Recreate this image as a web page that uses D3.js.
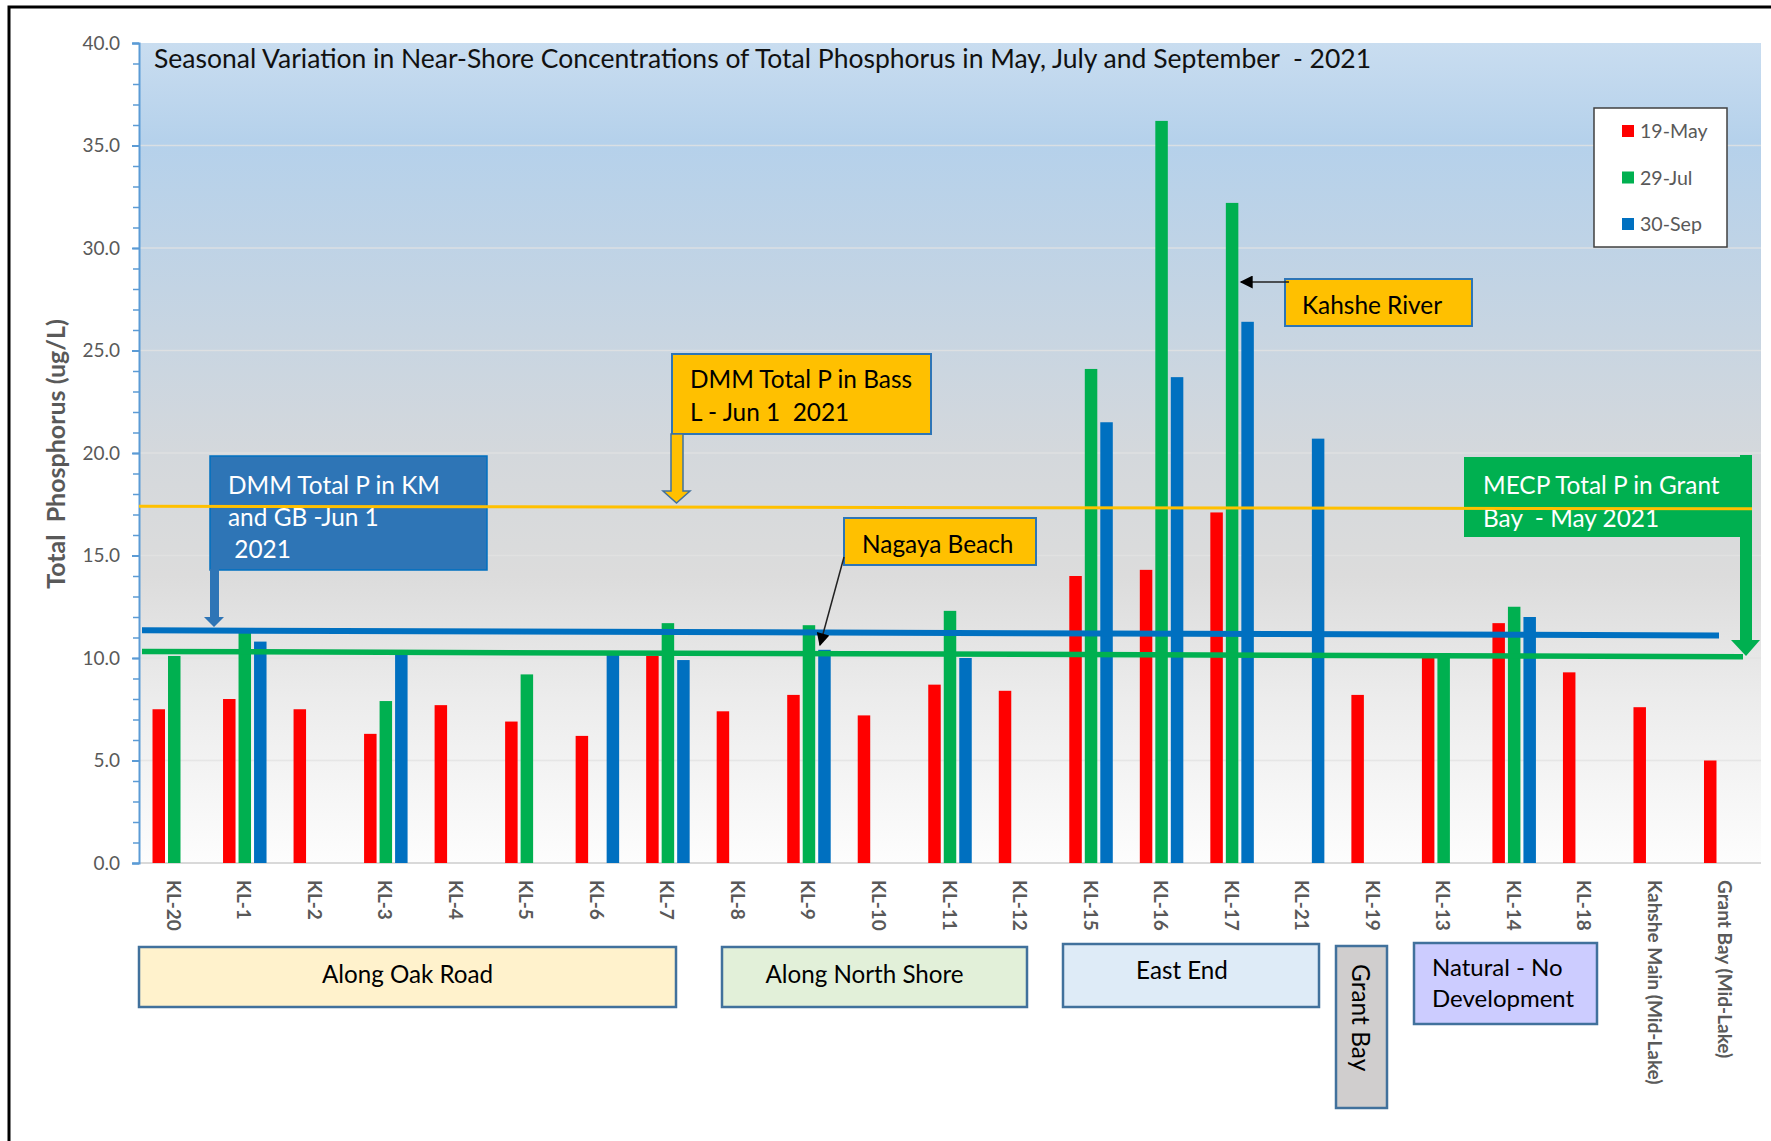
<html>
<head>
  <title>Total Phosphorus - Seasonal Variation 2021</title>
  <script src="https://d3js.org/d3.v7.min.js"></script>
  <style>
    body { margin: 0; background: #fff; }
    text { font-family: Lato, 'Open Sans', sans-serif; }
  </style>
</head>
<body>
  <svg id="chart" width="1771" height="1141"></svg>
  <script>
    // stations along the x axis
    var categories = ["KL-20", "KL-1", "KL-2", "KL-3", "KL-4", "KL-5", "KL-6", "KL-7", "KL-8", "KL-9",
      "KL-10", "KL-11", "KL-12", "KL-15", "KL-16", "KL-17", "KL-21", "KL-19", "KL-13", "KL-14",
      "KL-18", "Kahshe Main (Mid-Lake)", "Grant Bay (Mid-Lake)"];
    var seriesNames = ["19-May", "29-Jul", "30-Sep"];
    var may19 = [7.5, 8.0, 7.5, 6.3, 7.7, 6.9, 6.2, 10.1, 7.4, 8.2, 7.2, 8.7, 8.4, 14.0, 14.3, 17.1, null, 8.2, 10.0, 11.7, 9.3, 7.6, 5.0];
    var jul29 = [10.1, 11.3, null, 7.9, null, 9.2, null, 11.7, null, 11.6, null, 12.3, null, 24.1, 36.2, 32.2, null, null, 10.0, 12.5, null, null, null];
    var sep30 = [null, 10.8, null, 10.2, null, null, 10.15, 9.9, null, 10.4, null, 10.0, null, 21.5, 23.7, 26.4, 20.7, null, null, 12.0, null, null, null];
    var seriesColors = ["#ff0000", "#00b050", "#0070c0"];

    // reference levels drawn as lines (start value, end value)
    var bassLakeLevel = [17.4, 17.28];
    var kmGbLevel = [11.35, 11.1];
    var grantBayLevel = [10.32, 10.06];

    var yTicks = [0, 5, 10, 15, 20, 25, 30, 35, 40];

    var groupNames = ["Along Oak Road", "Along North Shore", "East End", "Grant Bay", "Natural - No|Development"];

    var svg = d3.select("#chart");
    var pLeft = 139, pRight = 1761, pTop = 43, pBottom = 863;

    var x = d3.scaleBand().domain(categories).range([pLeft, pRight]);
    var y = d3.scaleLinear().domain([0, 40]).range([pBottom, pTop]);
    var groupW = 43.5;
    var xSub = d3.scaleBand().domain(seriesNames).range([0, groupW]).paddingInner(0.194);
    var groupOff = (x.bandwidth() - groupW) / 2;

    // outer frame
    svg.append("rect").attr("x", 9).attr("y", 7).attr("width", 1800).attr("height", 1200)
      .attr("fill", "none").attr("stroke", "#000").attr("stroke-width", 3);

    // plot background gradient
    var defs = svg.append("defs");
    var grad = defs.append("linearGradient").attr("id", "bg").attr("x1", 0).attr("y1", 0).attr("x2", 0).attr("y2", 1);
    [[0, "#c9ddf0"], [0.12, "#b5d1eb"], [0.3, "#c3d4e4"], [0.5, "#d4d8dc"], [0.65, "#dcdcdc"], [0.8, "#ececec"], [1, "#fdfdfd"]]
      .forEach(function (s) { grad.append("stop").attr("offset", s[0]).attr("stop-color", s[1]); });

    var mk = defs.append("marker").attr("id", "arr").attr("viewBox", "0 0 10 10")
      .attr("refX", 9).attr("refY", 5).attr("markerUnits", "userSpaceOnUse")
      .attr("markerWidth", 15).attr("markerHeight", 13).attr("orient", "auto");
    mk.append("path").attr("d", "M0,0L10,5L0,10z").attr("fill", "#000");

    svg.append("rect").attr("x", pLeft).attr("y", pTop).attr("width", pRight - pLeft).attr("height", pBottom - pTop)
      .attr("fill", "url(#bg)");

    // gridlines
    svg.append("g").selectAll("line").data(yTicks.filter(function (d) { return d > 0 && d < 40; })).enter()
      .append("line").attr("x1", pLeft).attr("x2", pRight)
      .attr("y1", function (d) { return y(d); }).attr("y2", function (d) { return y(d); })
      .attr("stroke", "#e3e3e3").attr("stroke-width", 1.5).attr("opacity", 0.8);

    // x baseline
    svg.append("line").attr("x1", pLeft).attr("x2", pRight).attr("y1", pBottom).attr("y2", pBottom)
      .attr("stroke", "#d9d9d9").attr("stroke-width", 2);

    // bars
    var series = [may19, jul29, sep30];
    var bars = [];
    series.forEach(function (vals, si) {
      vals.forEach(function (v, i) {
        if (v != null) bars.push({ cat: categories[i], s: seriesNames[si], v: v, c: seriesColors[si] });
      });
    });
    svg.append("g").selectAll("rect").data(bars).enter().append("rect")
      .attr("x", function (d) { return x(d.cat) + groupOff + xSub(d.s); })
      .attr("width", xSub.bandwidth())
      .attr("y", function (d) { return y(d.v); })
      .attr("height", function (d) { return pBottom - y(d.v); })
      .attr("fill", function (d) { return d.c; });

    // y axis
    var yAxis = svg.append("g").attr("transform", "translate(" + pLeft + ",0)")
      .call(d3.axisLeft(y).tickValues(yTicks).tickFormat(d3.format(".1f")).tickSize(7).tickPadding(12));
    yAxis.select(".domain").attr("stroke", "#5b9bd5").attr("stroke-width", 2);
    yAxis.selectAll(".tick line").attr("stroke", "#5b9bd5").attr("stroke-width", 2);
    yAxis.selectAll("text").attr("fill", "#595959").style("font-size", "19px").style("font-family", "Lato");
    var yMinor = svg.append("g").attr("transform", "translate(" + pLeft + ",0)")
      .call(d3.axisLeft(y).tickValues(d3.range(0, 41, 1)).tickFormat("").tickSize(6));
    yMinor.select(".domain").remove();
    yMinor.selectAll(".tick line").attr("stroke", "#5b9bd5").attr("stroke-width", 1.5);

    svg.append("text").attr("transform", "translate(65,454) rotate(-90)")
      .attr("text-anchor", "middle").attr("fill", "#595959").attr("font-weight", "bold")
      .style("font-size", "25px").style("white-space", "pre").text("Total  Phosphorus (ug/L)");

    // category labels
    svg.append("g").selectAll("text").data(categories).enter().append("text")
      .attr("transform", function (d) { return "translate(" + (x(d) + x.bandwidth() / 2) + ",880) rotate(90)"; })
      .attr("dominant-baseline", "central").attr("fill", "#595959").attr("font-weight", "bold")
      .style("font-size", "19px").text(function (d) { return d; });

    // title
    svg.append("text").attr("x", 154).attr("y", 68).attr("fill", "#111")
      .style("font-size", "26.5px").style("white-space", "pre")
      .text("Seasonal Variation in Near-Shore Concentrations of Total Phosphorus in May, July and September  - 2021");

    // legend
    var lg = svg.append("g");
    lg.append("rect").attr("x", 1594).attr("y", 108).attr("width", 133).attr("height", 139)
      .attr("fill", "#fff").attr("stroke", "#404040").attr("stroke-width", 1.5);
    seriesNames.forEach(function (s, i) {
      lg.append("rect").attr("x", 1622).attr("y", 125 + i * 46.5).attr("width", 12).attr("height", 12).attr("fill", seriesColors[i]);
      lg.append("text").attr("x", 1640).attr("y", 138 + i * 46.5).attr("fill", "#595959")
        .style("font-size", "19.6px").text(s);
    });

    function lines(g, arr, x0, y0, dy, opts) {
      var t = g.append("text").attr("x", x0).attr("y", y0).attr("fill", opts.fill)
        .style("font-size", opts.size + "px").style("white-space", "pre");
      arr.forEach(function (s, i) {
        t.append("tspan").attr("x", x0).attr("y", y0 + i * dy).text(s);
      });
      return t;
    }

    // blue / green reference lines
    svg.append("line").attr("x1", 142).attr("x2", 1719)
      .attr("y1", y(kmGbLevel[0])).attr("y2", y(kmGbLevel[1]))
      .attr("stroke", "#0070c0").attr("stroke-width", 6);
    svg.append("line").attr("x1", 142).attr("x2", 1743)
      .attr("y1", y(grantBayLevel[0])).attr("y2", y(grantBayLevel[1]))
      .attr("stroke", "#00b050").attr("stroke-width", 5.5);

    var calloutSize = 24.4;

    // DMM KM & GB callout
    var c1 = svg.append("g");
    c1.append("rect").attr("x", 210).attr("y", 456).attr("width", 277).attr("height", 114)
      .attr("fill", "#2e75b6").attr("stroke", "#0070c0").attr("stroke-width", 1.5);
    c1.append("path").attr("d", "M210,569L219,569L219,617L224,617L214,627L204,617L210,617Z").attr("fill", "#2e75b6");
    lines(c1, ["DMM Total P in KM", "and GB -Jun 1", " 2021"], 228, 494, 32, { fill: "#fff", size: calloutSize });

    // DMM Bass Lake callout
    var c2 = svg.append("g");
    c2.append("rect").attr("x", 672).attr("y", 354).attr("width", 259).attr("height", 80)
      .attr("fill", "#ffc000").attr("stroke", "#2e75b6").attr("stroke-width", 2);
    c2.append("path").attr("d", "M671,434L683,434L683,491L690,491L676.5,503L663,491L671,491Z")
      .attr("fill", "#ffc000").attr("stroke", "#41719c").attr("stroke-width", 1.5);
    lines(c2, ["DMM Total P in Bass", "L - Jun 1  2021"], 690, 388, 33, { fill: "#000", size: calloutSize });

    // Kahshe River callout
    var c3 = svg.append("g");
    c3.append("rect").attr("x", 1285).attr("y", 279).attr("width", 187).attr("height", 47)
      .attr("fill", "#ffc000").attr("stroke", "#2e75b6").attr("stroke-width", 2);
    c3.append("line").attr("x1", 1289).attr("y1", 282).attr("x2", 1241).attr("y2", 282)
      .attr("stroke", "#222").attr("stroke-width", 1.5).attr("marker-end", "url(#arr)");
    lines(c3, ["Kahshe River"], 1302, 314, 0, { fill: "#000", size: calloutSize });

    // Nagaya Beach callout
    var c4 = svg.append("g");
    c4.append("rect").attr("x", 844).attr("y", 518).attr("width", 192).attr("height", 47)
      .attr("fill", "#ffc000").attr("stroke", "#2e75b6").attr("stroke-width", 2);
    c4.append("line").attr("x1", 844).attr("y1", 557).attr("x2", 820).attr("y2", 645)
      .attr("stroke", "#222").attr("stroke-width", 1.5).attr("marker-end", "url(#arr)");
    lines(c4, ["Nagaya Beach"], 862, 553, 0, { fill: "#000", size: calloutSize });

    // MECP Grant Bay callout
    var c5 = svg.append("g");
    c5.append("rect").attr("x", 1464).attr("y", 457).attr("width", 288).attr("height", 80).attr("fill", "#00b050");
    c5.append("path").attr("d", "M1740,455L1752,455L1752,640L1760,640L1746,656L1731,640L1740,640Z").attr("fill", "#00b050");
    lines(c5, ["MECP Total P in Grant", "Bay  - May 2021"], 1483, 494, 33, { fill: "#fff", size: calloutSize });

    // yellow reference line sits on top
    svg.append("line").attr("x1", pLeft).attr("x2", 1752)
      .attr("y1", y(bassLakeLevel[0])).attr("y2", y(bassLakeLevel[1]))
      .attr("stroke", "#ffc000").attr("stroke-width", 3);

    // group boxes under the axis
    var boxes = [
      { x: 139, y: 947, w: 537, h: 60, fill: "#fff2cc", dx: 0 },
      { x: 722, y: 947, w: 305, h: 60, fill: "#e2f0d9", dx: -10 },
      { x: 1063, y: 944, w: 256, h: 63, fill: "#deebf7", dx: -9 },
      { x: 1336, y: 946, w: 51, h: 162, fill: "#d0cece", dx: 0 },
      { x: 1414, y: 943, w: 183, h: 81, fill: "#ccccff", dx: 0 }
    ];
    var bg = svg.append("g");
    boxes.forEach(function (b, i) {
      bg.append("rect").attr("x", b.x).attr("y", b.y).attr("width", b.w).attr("height", b.h)
        .attr("fill", b.fill).attr("stroke", "#41719c").attr("stroke-width", 2.5);
      var name = groupNames[i];
      if (i < 3) {
        bg.append("text").attr("x", b.x + b.w / 2 + b.dx).attr("y", b.y + (i == 2 ? 35 : 36))
          .attr("text-anchor", "middle").attr("fill", "#000").style("font-size", "24.2px").text(name);
      } else if (i == 3) {
        bg.append("text").attr("transform", "translate(" + (b.x + b.w / 2) + "," + (b.y + 18) + ") rotate(90)")
          .attr("dominant-baseline", "central").attr("fill", "#000").style("font-size", "24.5px").text(name);
      } else {
        lines(bg, name.split("|"), b.x + 18, b.y + 33, 31, { fill: "#000", size: 24 });
      }
    });
  </script>
</body>
</html>
